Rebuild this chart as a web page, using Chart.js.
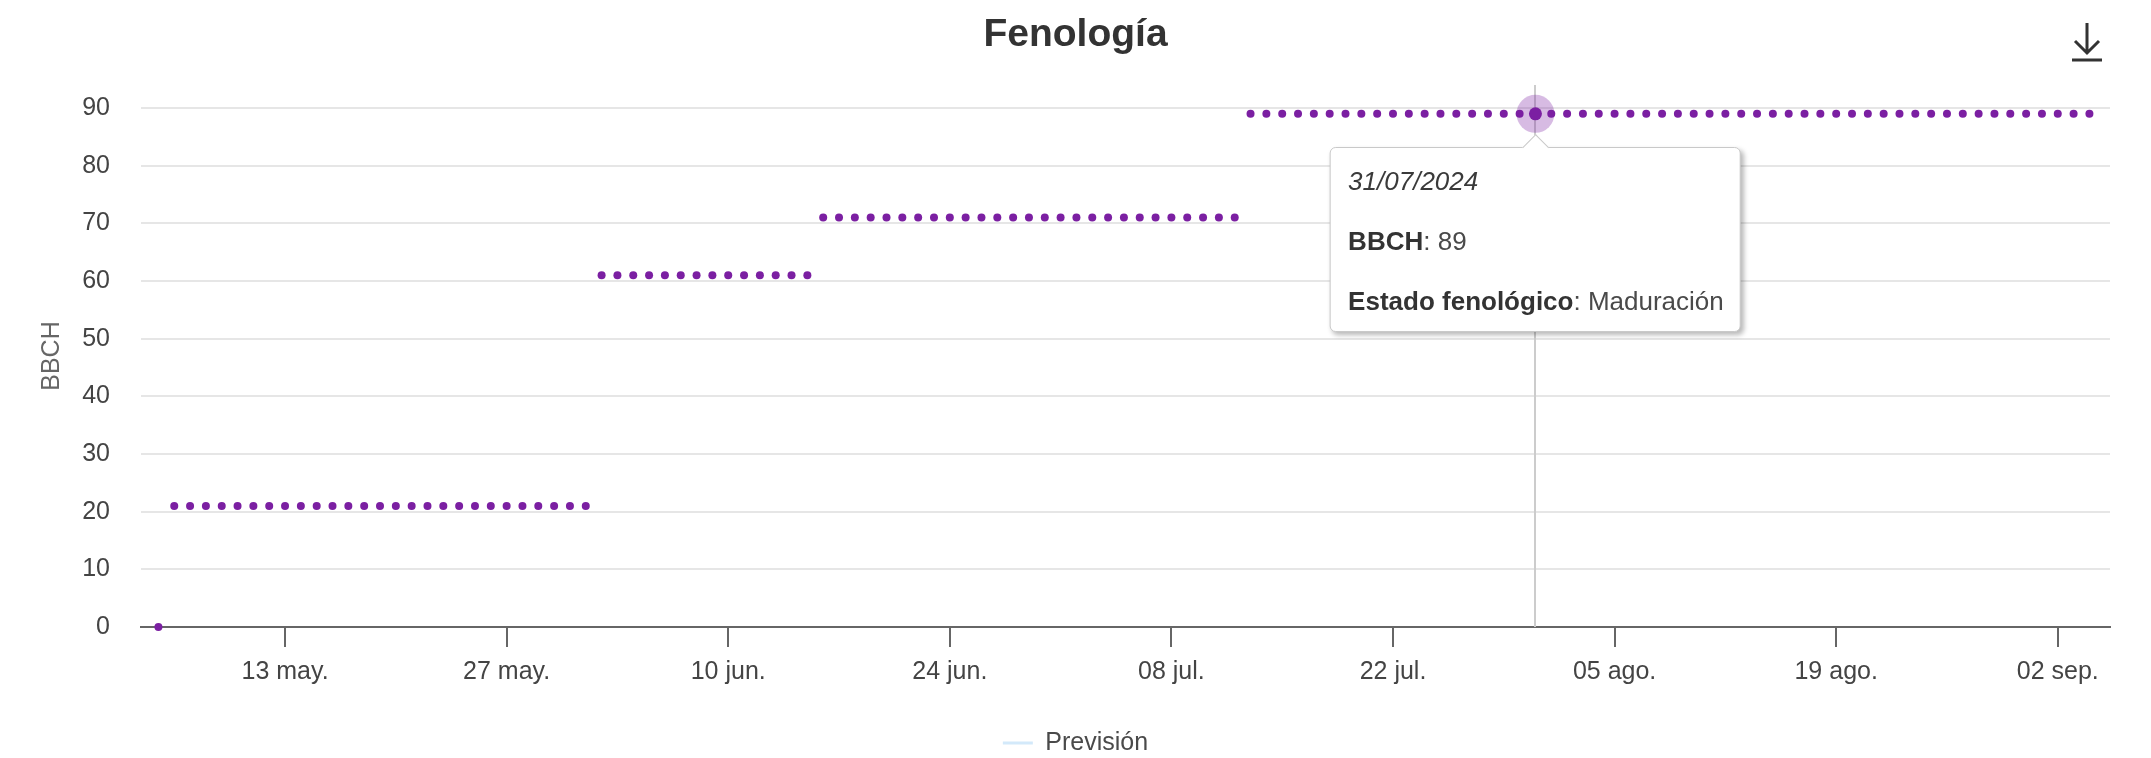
<!DOCTYPE html>
<html lang="es">
<head>
<meta charset="utf-8">
<title>Fenología</title>
<script src="https://cdn.jsdelivr.net/npm/chart.js@4.4.1/dist/chart.umd.min.js"></script>
<style>
  html, body { margin: 0; padding: 0; background: #ffffff; }
  #wrap { position: relative; width: 2151px; height: 758px; }
  #chart { position: absolute; left: 0; top: 0; }
  #tt {
    position: absolute; opacity: 0; pointer-events: none;
    transform: translateX(-50%);
    background: #ffffff; border: 1px solid #c9c9c9; border-radius: 6px;
    box-shadow: 3px 3px 5px rgba(0,0,0,0.28);
    padding: 3px 16px 0 17px; white-space: nowrap;
    font-family: "Liberation Sans", Arial, Helvetica, sans-serif;
    font-size: 26px; line-height: 60px; color: #333333;
  }
  #tt .t { font-style: italic; color: #3a3a3a; }
  #tt b { font-weight: bold; color: #333333; }
  #tt span { color: #4a4a4a; }
  #tt::before {
    content: ""; position: absolute; left: 50%; top: -10px;
    width: 18px; height: 18px; background: #ffffff;
    border-left: 1px solid #c9c9c9; border-top: 1px solid #c9c9c9;
    transform: translateX(-50%) rotate(45deg);
  }
</style>
</head>
<body>
<div id="wrap">
  <canvas id="chart" width="2151" height="758"></canvas>
  <div id="tt"></div>
</div>
<script>
// ---------------- DATA ----------------
const dates = [
  '2024-05-05','2024-05-06','2024-05-07','2024-05-08','2024-05-09','2024-05-10','2024-05-11','2024-05-12','2024-05-13','2024-05-14',
  '2024-05-15','2024-05-16','2024-05-17','2024-05-18','2024-05-19','2024-05-20','2024-05-21','2024-05-22','2024-05-23','2024-05-24',
  '2024-05-25','2024-05-26','2024-05-27','2024-05-28','2024-05-29','2024-05-30','2024-05-31',
  '2024-06-01','2024-06-02','2024-06-03','2024-06-04','2024-06-05','2024-06-06','2024-06-07','2024-06-08','2024-06-09','2024-06-10',
  '2024-06-11','2024-06-12','2024-06-13','2024-06-14','2024-06-15','2024-06-16','2024-06-17','2024-06-18','2024-06-19','2024-06-20',
  '2024-06-21','2024-06-22','2024-06-23','2024-06-24','2024-06-25','2024-06-26','2024-06-27','2024-06-28','2024-06-29','2024-06-30',
  '2024-07-01','2024-07-02','2024-07-03','2024-07-04','2024-07-05','2024-07-06','2024-07-07','2024-07-08','2024-07-09','2024-07-10',
  '2024-07-11','2024-07-12','2024-07-13','2024-07-14','2024-07-15','2024-07-16','2024-07-17','2024-07-18','2024-07-19','2024-07-20',
  '2024-07-21','2024-07-22','2024-07-23','2024-07-24','2024-07-25','2024-07-26','2024-07-27','2024-07-28','2024-07-29','2024-07-30',
  '2024-07-31',
  '2024-08-01','2024-08-02','2024-08-03','2024-08-04','2024-08-05','2024-08-06','2024-08-07','2024-08-08','2024-08-09','2024-08-10',
  '2024-08-11','2024-08-12','2024-08-13','2024-08-14','2024-08-15','2024-08-16','2024-08-17','2024-08-18','2024-08-19','2024-08-20',
  '2024-08-21','2024-08-22','2024-08-23','2024-08-24','2024-08-25','2024-08-26','2024-08-27','2024-08-28','2024-08-29','2024-08-30',
  '2024-08-31',
  '2024-09-01','2024-09-02','2024-09-03','2024-09-04'
];
const bbch = [
  // may 05-31
  0,21,21,21,21,21,21,21,21,21, 21,21,21,21,21,21,21,21,21,21, 21,21,21,21,21,21,21,
  // jun 01-30
  21,61,61,61,61,61,61,61,61,61, 61,61,61,61,61,71,71,71,71,71, 71,71,71,71,71,71,71,71,71,71,
  // jul 01-31
  71,71,71,71,71,71,71,71,71,71, 71,71,89,89,89,89,89,89,89,89, 89,89,89,89,89,89,89,89,89,89, 89,
  // ago 01-31
  89,89,89,89,89,89,89,89,89,89, 89,89,89,89,89,89,89,89,89,89, 89,89,89,89,89,89,89,89,89,89, 89,
  // sep 01-04
  89,89,89,89
];
const stageCodes = [0, 21, 61, 71, 89];
const stageNames = ['Siembra', 'Ahijado', 'Floración', 'Llenado del grano', 'Maduración'];
const xTickDates = ['2024-05-13','2024-05-27','2024-06-10','2024-06-24','2024-07-08','2024-07-22','2024-08-05','2024-08-19','2024-09-02'];
const xTickLabels = ['13 may.','27 may.','10 jun.','24 jun.','08 jul.','22 jul.','05 ago.','19 ago.','02 sep.'];
const yTicks = [0, 10, 20, 30, 40, 50, 60, 70, 80, 90];
const forecastLabel = 'Previsión';
const forecastValues = [];
const tooltipDate = '2024-07-31';

// ---------------- HELPERS ----------------
const FONT = '"Liberation Sans", Arial, Helvetica, sans-serif';
const PURPLE = '#7b1fa2';
function dayNum(s) { const p = s.split('-').map(Number); return Date.UTC(p[0], p[1] - 1, p[2]) / 86400000; }
function fmtDate(s) { const p = s.split('-'); return p[2] + '/' + p[1] + '/' + p[0]; }
function stageName(v) { const i = stageCodes.indexOf(v); return i >= 0 ? stageNames[i] : ''; }

const points = dates.map((d, i) => ({ x: dayNum(d), y: bbch[i] }));
const xTickVals = xTickDates.map(dayNum);

Chart.defaults.font.family = FONT;
Chart.defaults.animation = false;

const decorPlugin = {
  id: 'decor',
  beforeDatasetsDraw(chart) {
    const act = chart.getActiveElements();
    if (!act.length) return;
    const el = chart.getDatasetMeta(act[0].datasetIndex).data[act[0].index];
    const ctx = chart.ctx, a = chart.chartArea;
    ctx.save();
    ctx.strokeStyle = '#cccccc';
    ctx.lineWidth = 2;
    ctx.beginPath();
    ctx.moveTo(Math.round(el.x), a.top);
    ctx.lineTo(Math.round(el.x), a.bottom);
    ctx.stroke();
    ctx.fillStyle = 'rgba(123,31,162,0.3)';
    ctx.beginPath();
    ctx.arc(el.x, el.y, 19, 0, Math.PI * 2);
    ctx.fill();
    ctx.restore();
  },
  afterDraw(chart) {
    // export / download icon
    const ctx = chart.ctx, x = chart.width - 64;
    ctx.save();
    ctx.strokeStyle = '#333333';
    ctx.lineWidth = 3;
    ctx.lineCap = 'butt';
    ctx.beginPath();
    ctx.moveTo(x, 23); ctx.lineTo(x, 53);
    ctx.moveTo(x - 12, 41); ctx.lineTo(x, 53); ctx.lineTo(x + 12, 41);
    ctx.moveTo(x - 15, 60); ctx.lineTo(x + 15, 60);
    ctx.stroke();
    ctx.restore();
  }
};

function externalTooltip(context) {
  const { chart, tooltip } = context;
  const el = document.getElementById('tt');
  if (tooltip.opacity === 0 || !tooltip.dataPoints || !tooltip.dataPoints.length) { el.style.opacity = 0; return; }
  const i = tooltip.dataPoints[0].dataIndex;
  el.innerHTML =
    '<div class="t">' + fmtDate(dates[i]) + '</div>' +
    '<div><b>BBCH</b><span>: ' + bbch[i] + '</span></div>' +
    '<div><b>Estado fenológico</b><span>: ' + stageName(bbch[i]) + '</span></div>';
  el.style.left = (chart.canvas.offsetLeft + tooltip.caretX) + 'px';
  el.style.top = (chart.canvas.offsetTop + tooltip.caretY + 33) + 'px';
  el.style.opacity = 1;
}

const chart = new Chart(document.getElementById('chart'), {
  type: 'scatter',
  data: {
    datasets: [
      {
        label: 'BBCH',
        data: points,
        showLine: false,
        pointRadius: 4,
        pointBorderWidth: 0,
        pointBackgroundColor: PURPLE,
        pointBorderColor: PURPLE,
        pointHoverRadius: 6.5,
        pointHoverBorderWidth: 0,
        pointHoverBackgroundColor: PURPLE,
        clip: false
      },
      {
        label: forecastLabel,
        data: forecastValues,
        showLine: true,
        borderColor: '#d3e9fa',
        backgroundColor: '#d3e9fa',
        borderWidth: 0
      }
    ]
  },
  options: {
    responsive: false,
    events: [],
    layout: { padding: { left: 0, right: 0, top: 0, bottom: -7.5 } },
    scales: {
      x: {
        type: 'linear',
        position: 'bottom',
        min: dayNum(dates[0]) - 1.1,
        max: dayNum(dates[dates.length - 1]) + 1.3,
        afterBuildTicks(scale) { scale.ticks = xTickVals.map(v => ({ value: v })); },
        afterFit(scale) { scale.height = 93.5; },
        ticks: {
          autoSkip: false, maxRotation: 0, minRotation: 0,
          padding: 10,
          color: '#444444',
          font: { size: 25 },
          callback(v) { const i = xTickVals.indexOf(v); return i >= 0 ? xTickLabels[i] : ''; }
        },
        grid: { drawOnChartArea: false, drawTicks: true, tickLength: 20, color: '#666666', lineWidth: 2 },
        border: { display: true, color: '#666666', width: 2 }
      },
      y: {
        type: 'linear',
        position: 'left',
        min: 0,
        max: 94,
        afterBuildTicks(scale) { scale.ticks = yTicks.map(v => ({ value: v })); },
        afterFit(scale) { scale.width = 141; },
        title: { display: true, text: 'BBCH', color: '#666666', font: { size: 25 }, padding: { top: 37, bottom: 0 } },
        ticks: { padding: 31, color: '#444444', font: { size: 25 }, callback(v) { return String(v); } },
        grid: { color: '#e6e6e6', lineWidth: 2, drawTicks: false },
        border: { display: false }
      },
      yRight: {
        type: 'linear',
        position: 'right',
        display: true,
        afterFit(scale) { scale.width = 41; },
        ticks: { display: false },
        grid: { display: false, drawTicks: false },
        border: { display: false }
      }
    },
    plugins: {
      title: {
        display: true,
        text: 'Fenología',
        color: '#333333',
        font: { size: 39, weight: 'bold' },
        padding: { top: 12, bottom: 26.2 }
      },
      legend: {
        display: true,
        position: 'bottom',
        labels: {
          filter: (item) => item.datasetIndex === 1,
          boxWidth: 30,
          boxHeight: 3,
          padding: 10,
          color: '#4a4a4a',
          font: { size: 25 }
        }
      },
      tooltip: {
        enabled: false,
        external: externalTooltip
      }
    }
  },
  plugins: [decorPlugin]
});

const activeIdx = dates.indexOf(tooltipDate);
chart.setActiveElements([{ datasetIndex: 0, index: activeIdx }]);
const el = chart.getDatasetMeta(0).data[activeIdx];
chart.tooltip.setActiveElements([{ datasetIndex: 0, index: activeIdx }], { x: el.x, y: el.y });
chart.render();
</script>
</body>
</html>
